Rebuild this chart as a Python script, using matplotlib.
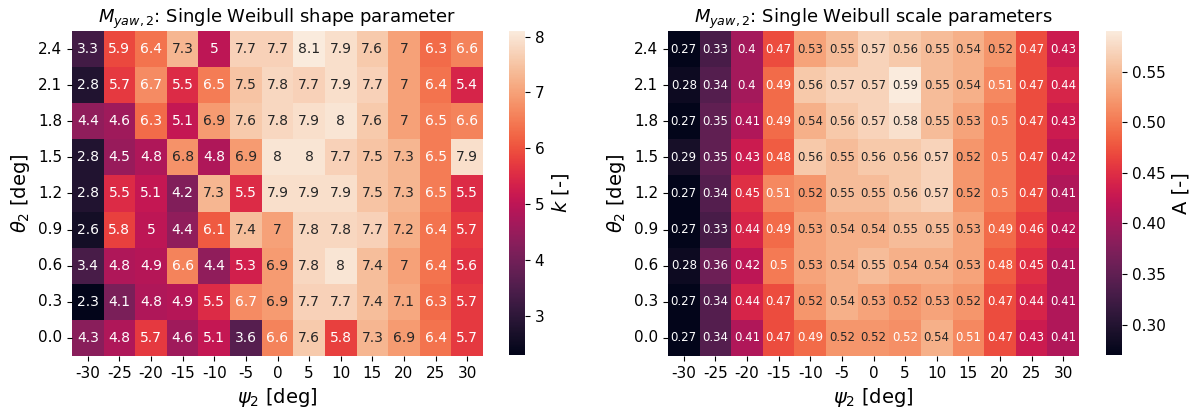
import matplotlib
matplotlib.use('Agg')
import matplotlib.pyplot as plt
import numpy as np
import seaborn as sns

# yaw angle psi_2 (columns) and pitch angle theta_2 (rows, top to bottom)
psi = [-30, -25, -20, -15, -10, -5, 0, 5, 10, 15, 20, 25, 30]
theta = [2.4, 2.1, 1.8, 1.5, 1.2, 0.9, 0.6, 0.3, 0.0]

# Weibull shape parameter k
k_vals = [
    [3.3, 5.9, 6.4, 7.3, 5.0, 7.7, 7.7, 8.1, 7.9, 7.6, 7.0, 6.3, 6.6],
    [2.8, 5.7, 6.7, 5.5, 6.5, 7.5, 7.8, 7.7, 7.9, 7.7, 7.0, 6.4, 5.4],
    [4.4, 4.6, 6.3, 5.1, 6.9, 7.6, 7.8, 7.9, 8.0, 7.6, 7.0, 6.5, 6.6],
    [2.8, 4.5, 4.8, 6.8, 4.8, 6.9, 8.0, 8.0, 7.7, 7.5, 7.3, 6.5, 7.9],
    [2.8, 5.5, 5.1, 4.2, 7.3, 5.5, 7.9, 7.9, 7.9, 7.5, 7.3, 6.5, 5.5],
    [2.6, 5.8, 5.0, 4.4, 6.1, 7.4, 7.0, 7.8, 7.8, 7.7, 7.2, 6.4, 5.7],
    [3.4, 4.8, 4.9, 6.6, 4.4, 5.3, 6.9, 7.8, 8.0, 7.4, 7.0, 6.4, 5.6],
    [2.3, 4.1, 4.8, 4.9, 5.5, 6.7, 6.9, 7.7, 7.7, 7.4, 7.1, 6.3, 5.7],
    [4.3, 4.8, 5.7, 4.6, 5.1, 3.6, 6.6, 7.6, 5.8, 7.3, 6.9, 6.4, 5.7],
]

# Weibull scale parameter A
a_vals = [
    [0.27, 0.33, 0.40, 0.47, 0.53, 0.55, 0.57, 0.56, 0.55, 0.54, 0.52, 0.47, 0.43],
    [0.28, 0.34, 0.40, 0.49, 0.56, 0.57, 0.57, 0.59, 0.55, 0.54, 0.51, 0.47, 0.44],
    [0.27, 0.35, 0.41, 0.49, 0.54, 0.56, 0.57, 0.58, 0.55, 0.53, 0.50, 0.47, 0.43],
    [0.29, 0.35, 0.43, 0.48, 0.56, 0.55, 0.56, 0.56, 0.57, 0.52, 0.50, 0.47, 0.42],
    [0.27, 0.34, 0.45, 0.51, 0.52, 0.55, 0.55, 0.56, 0.57, 0.52, 0.50, 0.47, 0.41],
    [0.27, 0.33, 0.44, 0.49, 0.53, 0.54, 0.54, 0.55, 0.55, 0.53, 0.49, 0.46, 0.42],
    [0.28, 0.36, 0.42, 0.50, 0.53, 0.54, 0.55, 0.54, 0.54, 0.53, 0.48, 0.45, 0.41],
    [0.27, 0.34, 0.44, 0.47, 0.52, 0.54, 0.53, 0.52, 0.53, 0.52, 0.47, 0.44, 0.41],
    [0.27, 0.34, 0.41, 0.47, 0.49, 0.52, 0.52, 0.516, 0.54, 0.51, 0.47, 0.43, 0.41],
]

W, H = 1195, 407
fig = plt.figure(figsize=(W / 100, H / 100), dpi=100)

def box(x0, y0, x1, y1):
    # pixel box -> figure fraction
    return [x0 / W, 1 - y1 / H, (x1 - x0) / W, (y1 - y0) / H]

ax1 = fig.add_axes(box(72, 31, 483, 356))
cax1 = fig.add_axes(box(509, 31, 525, 355))
ax2 = fig.add_axes(box(668, 31, 1079, 356))
cax2 = fig.add_axes(box(1106, 31, 1122, 355))

panels = [
    (ax1, cax1, np.array(k_vals), r'$M_{yaw,2}$: Single Weibull shape parameter', r'$k$ [-]', 10),
    (ax2, cax2, np.array(a_vals), r'$M_{yaw,2}$: Single Weibull scale parameters', 'A [-]', 8.5),
]

for ax, cax, data, title, clabel, afs in panels:
    sns.heatmap(data, ax=ax, cbar_ax=cax, annot=True, fmt='.2g',
                annot_kws={'fontsize': afs},
                xticklabels=psi, yticklabels=theta)
    ax.set_title(title, fontsize=13)
    ax.set_xlabel(r'$\psi_2$ [deg]', fontsize=14)
    ax.set_ylabel(r'$\theta_2$ [deg]', fontsize=14)
    ax.tick_params(labelsize=11)
    ax.set_yticklabels(ax.get_yticklabels(), rotation=0)
    ax.set_xticklabels(ax.get_xticklabels(), rotation=0)
    cax.tick_params(labelsize=11)
    cax.set_ylabel(clabel, fontsize=14)

fig.savefig('out.png', dpi=100)
